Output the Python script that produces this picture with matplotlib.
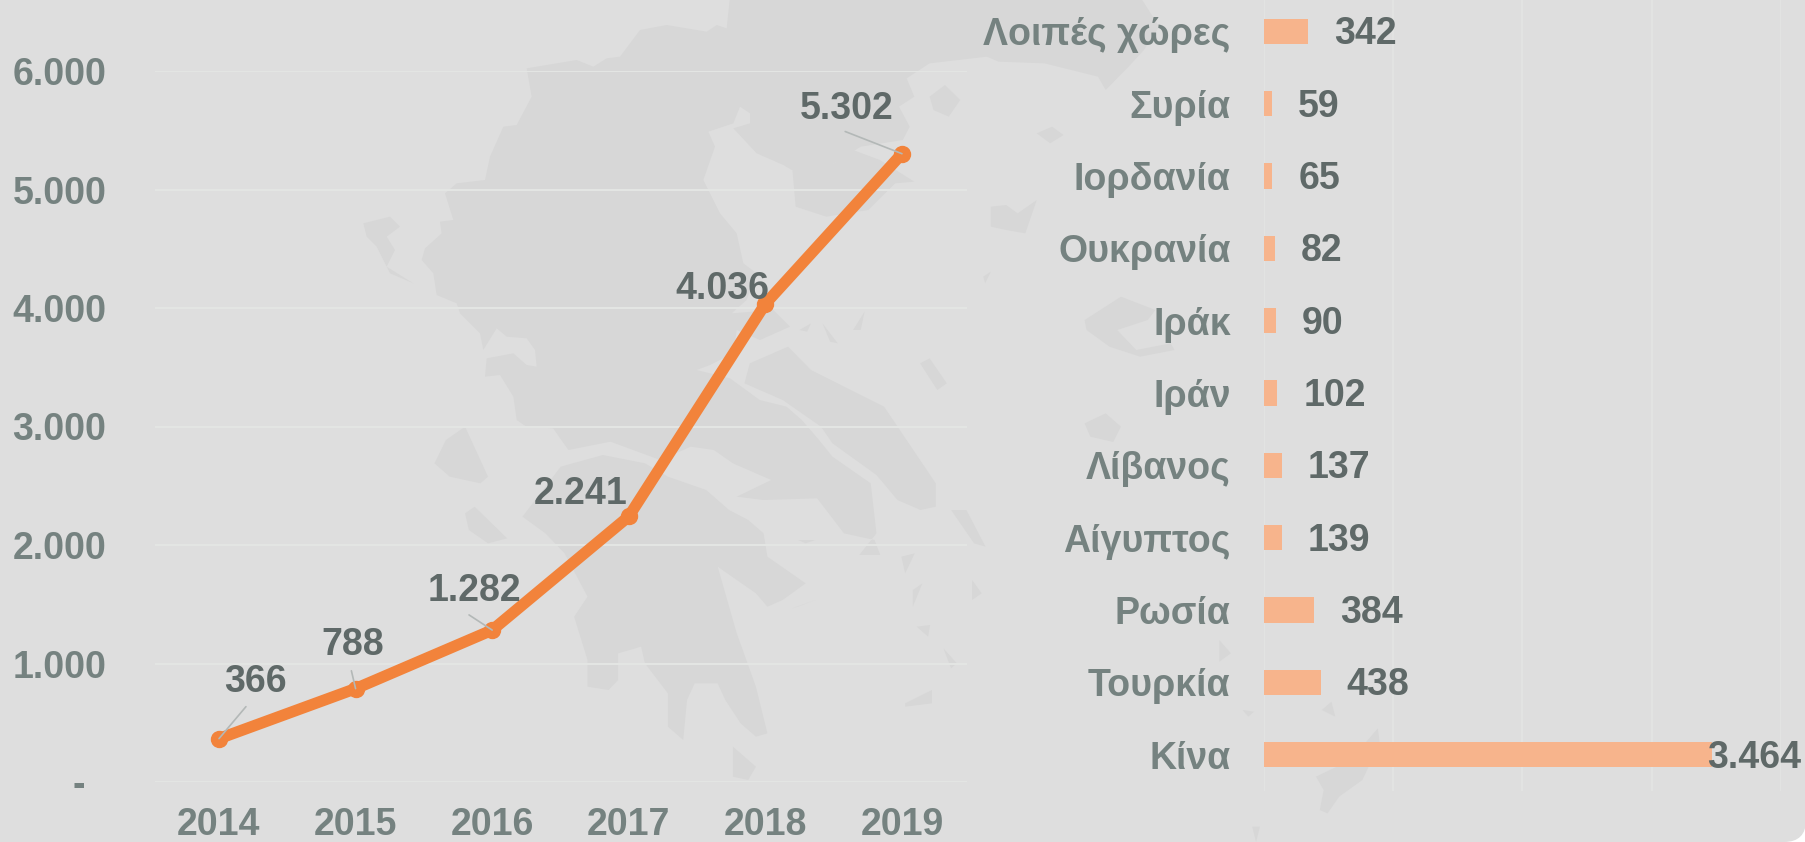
import matplotlib
matplotlib.use('Agg')
import matplotlib.pyplot as plt
from matplotlib.patches import FancyBboxPatch, Polygon

plt.rcParams['font.family'] = ['Liberation Sans', 'DejaVu Sans']
plt.rcParams['font.weight'] = 'bold'

# data
years = ['2014', '2015', '2016', '2017', '2018', '2019']
totals = [366, 788, 1282, 2241, 4036, 5302]
total_labels = ['366', '788', '1.282', '2.241', '4.036', '5.302']
y_ticks = [0, 1000, 2000, 3000, 4000, 5000, 6000]
y_tick_labels = ['-  ', '1.000', '2.000', '3.000', '4.000', '5.000', '6.000']

countries = ['Κίνα', 'Τουρκία', 'Ρωσία', 'Αίγυπτος', 'Λίβανος', 'Ιράν',
             'Ιράκ', 'Ουκρανία', 'Ιορδανία', 'Συρία', 'Λοιπές χώρες']
country_values = [3464, 438, 384, 139, 137, 102, 90, 82, 65, 59, 342]
country_labels = ['3.464', '438', '384', '139', '137', '102', '90', '82', '65', '59', '342']

# label offsets in pixels from each point (label centre)
label_offsets = [(36, 57), (-3, 44), (-18, 39), (-48, 22), (-43, 15), (-55, 45)]
# where the leader leaves the label, None for no leader
leader_start = [0.45, 0.45, 0.35, None, None, 0.35]

W, H = 1806, 842
BG = '#dedede'
MAP = '#d7d7d7'
GRID = '#e3e5e3'
ORANGE = '#f2833b'
BAR = '#f7b48c'
TICK = '#758280'
VALUE = '#5f6968'


def crop_a(pts):
    return [(300 + x / 3, y / 3) for x, y in pts]


def crop_b(pts):
    return [(400 + x / 2.613, 400 + y / 3) for x, y in pts]


def crop_c(pts):
    return [(700 + x / 2.613, y / 3) for x, y in pts]


def crop_d(pts):
    return [(1200 + x / 2.587, 600 + y / 3) for x, y in pts]


mainland = (
    crop_a([(1290, -10), (1280, 85), (1250, 75), (1220, 95), (1100, 75), (1020, 90), (960, 170),
            (920, 175), (880, 200), (830, 180), (680, 205), (695, 290), (650, 375), (610, 380),
            (570, 470), (555, 540), (470, 550), (435, 580), (460, 660), (420, 665), (425, 700),
            (375, 745), (365, 780), (400, 820), (410, 885), (470, 910), (480, 940), (540, 1000),
            (550, 1050), (590, 985), (620, 1010), (680, 1015), (705, 1050), (710, 1100), (680, 1095),
            (640, 1060), (560, 1075), (555, 1130), (600, 1125), (640, 1190), (650, 1260)])
    + crop_b([(330, 80), (400, 85), (440, 150), (550, 125), (680, 180), (760, 140), (820, 150),
              (870, 190), (970, 240), (880, 290), (950, 300), (1090, 295), (1120, 340), (1160, 400),
              (1240, 420), (1255, 465), (1200, 465), (1245, 400), (1230, 250), (1130, 170),
              (1095, 120), (1050, 60), (1010, 20), (940, 0)])
    + crop_a([(1290, 1135), (1190, 1110), (1230, 1095), (1300, 1060), (1310, 990), (1380, 1020),
              (1470, 980), (1420, 930), (1295, 940), (1340, 900), (1370, 820), (1330, 790),
              (1310, 700), (1260, 640), (1210, 540), (1245, 440), (1225, 395), (1300, 370),
              (1320, 320), (1350, 340), (1350, 370), (1300, 385), (1370, 460), (1450, 495), (1475, 510)])
    + crop_c([(350, 490), (420, 440), (530, 420), (548, 380), (520, 320), (560, 290), (540, 235),
              (600, 190), (750, 170), (780, 185), (900, 190), (1040, 230), (1060, 270), (1120, 200),
              (1160, 150), (1200, 80), (1150, -10)])
)
chalkidiki = crop_c([(240, 490), (350, 490), (400, 450), (470, 480), (560, 545), (510, 550), (440, 630),
                     (330, 650), (250, 620)])
peloponnese = crop_b([(530, 165), (640, 190), (700, 230), (800, 270), (860, 330), (910, 360), (950, 400),
                      (960, 470), (1060, 550), (1000, 600), (960, 620), (930, 580), (830, 500), (880, 700),
                      (930, 860), (960, 1000), (930, 1010), (890, 970), (850, 900), (830, 850), (770, 850),
                      (750, 900), (740, 1020), (700, 980), (700, 880), (640, 790), (630, 740), (570, 760),
                      (570, 840), (545, 870), (490, 860), (490, 780), (455, 650), (490, 590), (430, 460),
                      (380, 400), (320, 350), (420, 200)])
evia = crop_b([(914, -110), (1014, -160), (1074, -90), (1265, 20), (1400, 250), (1400, 320), (1360, 330),
               (1300, 300), (1245, 225), (1130, 130), (1100, 80), (1000, 0), (900, -50)])
islands = [
    crop_a([(190, 670), (270, 650), (300, 680), (260, 710), (285, 750), (260, 800), (340, 850), (270, 820),
            (230, 740), (200, 710)]),
    crop_b([(90, 190), (120, 120), (170, 80), (230, 230), (210, 250), (130, 230)]),
    crop_b([(170, 340), (195, 320), (280, 415), (230, 430), (180, 390)]),
    crop_b([(870, 1040), (930, 1100), (910, 1140), (870, 1130)]),
    crop_b([(1440, 330), (1480, 330), (1530, 440), (1500, 430)]),
    crop_b([(1310, 470), (1345, 460), (1320, 520)]),
    crop_b([(1340, 570), (1365, 550), (1340, 620)]),
    crop_b([(1495, 540), (1520, 580), (1495, 600)]),
    crop_b([(1320, 910), (1390, 870), (1390, 910), (1320, 920)]),
    crop_b([(1350, 680), (1385, 675), (1380, 710)]),
    crop_b([(1040, 420), (1085, 420), (1060, 430)]),
    crop_b([(1025, 625), (1085, 600), (1040, 620)]),
    crop_b([(1420, 745), (1455, 790), (1440, 805)]),
    crop_c([(600, 290), (640, 255), (680, 300), (650, 350), (610, 330)]),
    crop_c([(880, 400), (920, 380), (950, 405), (915, 430)]),
    crop_c([(760, 620), (800, 615), (830, 640), (880, 600), (850, 700), (800, 690), (760, 680)]),
    crop_c([(1005, 960), (1100, 890), (1190, 930), (1170, 960), (1090, 990), (1140, 1050), (1230, 1030),
            (1240, 1050), (1150, 1070), (1070, 1040), (1010, 990)]),
    crop_c([(740, 830), (760, 815), (745, 850)]),
    crop_c([(260, 990), (290, 970), (280, 995)]),
    crop_c([(320, 970), (360, 1030), (340, 1025)]),
    crop_c([(400, 990), (430, 935), (420, 990)]),
    crop_c([(575, 1090), (600, 1075), (645, 1150), (620, 1170)]),
    crop_c([(1005, 1270), (1060, 1240), (1100, 1280), (1080, 1326), (1020, 1310)]),
    crop_d([(300, 530), (390, 480), (460, 385), (465, 430), (420, 540), (360, 590), (330, 640), (310, 630),
            (320, 570)]),
    crop_d([(315, 330), (340, 305), (350, 350)]),
    crop_d([(135, 680), (155, 680), (145, 726)]),
    crop_d([(50, 120), (80, 160), (50, 185)]),
    crop_d([(110, 330), (140, 335), (125, 350)]),
]

fig = plt.figure(figsize=(W / 100, H / 100), dpi=100, facecolor='white')

# background panel with the map
bg = fig.add_axes([0, 0, 1, 1], zorder=0)
bg.set_xlim(0, W)
bg.set_ylim(H, 0)
bg.axis('off')
bg.add_patch(FancyBboxPatch((-60, -60), W + 60 - 14, H + 60 - 14,
                            boxstyle='round,pad=14,rounding_size=22',
                            facecolor=BG, edgecolor='none'))
for outline in [mainland, chalkidiki, peloponnese, evia] + islands:
    bg.add_patch(Polygon(outline, facecolor=MAP, edgecolor='none'))

# left chart
ax1 = fig.add_axes([155 / W, 1 - 782 / H, 812 / W, 711 / H], zorder=1)
ax1.patch.set_visible(False)
ax1.plot(years, totals, color=ORANGE, linewidth=8.2, marker='o', markersize=11.5,
         solid_capstyle='round', solid_joinstyle='round', zorder=3)
ax1.set_xlim(-0.4685, 5.476)
ax1.set_ylim(0, 6000)
ax1.set_yticks(y_ticks)
ax1.set_yticklabels(y_tick_labels)
ax1.tick_params(axis='y', length=0, pad=35, labelsize=27, labelcolor=TICK)
ax1.tick_params(axis='x', length=0, pad=18, labelsize=27, labelcolor=TICK)
ax1.grid(axis='y', color=GRID, linewidth=1.5)
ax1.set_axisbelow(True)
for s in ax1.spines.values():
    s.set_visible(False)

for i, (txt, off) in enumerate(zip(total_labels, label_offsets)):
    arrow = None
    if leader_start[i] is not None:
        arrow = dict(arrowstyle='-', color='#b3b8b7', linewidth=1.2, relpos=(leader_start[i], 0),
                     shrinkA=4, shrinkB=0)
    ax1.annotate(txt, xy=(years[i], totals[i]), xytext=off, textcoords='offset pixels',
                 ha='center', va='center', fontsize=27, color=VALUE,
                 arrowprops=arrow, zorder=4)

# right chart
ax2 = fig.add_axes([1264 / W, 1 - 791 / H, 517 / W, 796 / H], zorder=1)
ax2.patch.set_visible(False)
ax2.barh(countries, country_values, height=0.35, color=BAR, zorder=3)
ax2.set_xlim(0, 4000)
ax2.set_ylim(-0.5, 10.5)
ax2.set_xticks([0, 1000, 2000, 3000, 4000])
ax2.tick_params(axis='x', length=0, labelbottom=False)
ax2.tick_params(axis='y', length=0, pad=24, labelsize=27, labelcolor=TICK)
ax2.grid(axis='x', color=GRID, linewidth=1.2)
ax2.set_axisbelow(True)
for s in ax2.spines.values():
    s.set_visible(False)

for i, (v, txt) in enumerate(zip(country_values, country_labels)):
    dx = 26 if i > 0 else -5
    ax2.annotate(txt, xy=(v, i), xytext=(dx, -3), textcoords='offset pixels',
                 ha='left', va='center', fontsize=27, color=VALUE,
                 annotation_clip=False, zorder=4)

fig.savefig('out.png', dpi=100, facecolor='white')
